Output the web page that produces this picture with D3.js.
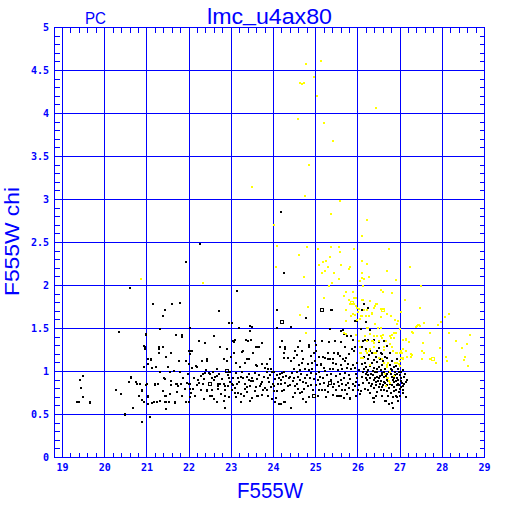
<!DOCTYPE html>
<html>
<head>
<meta charset="utf-8">
<script src="https://cdn.jsdelivr.net/npm/d3@7"></script>
<style>
  html, body { margin: 0; padding: 0; background: #ffffff; }
  svg { display: block; }
</style>
</head>
<body>
<div id="chart"></div>
<script>
// ---------------- data ----------------
const titleParts = ["lmc", "_", "u4ax80"];
const cornerText = "PC";
const xLabel = "F555W";
const yLabel = "F555W chi";

const magTicks = [19, 20, 21, 22, 23, 24, 25, 26, 27, 28, 29];
const chiTicks = [0, 0.5, 1, 1.5, 2, 2.5, 3, 3.5, 4, 4.5, 5];
const chiTickLabels = ["0", "0.5", "1", "1.5", "2", "2.5", "3", "3.5", "4", "4.5", "5"];

// black stars: [F555W, chi]
const blackStars = [
[20.60,1.97],[21.14,1.78],[21.59,1.78],[21.43,1.71],[21.38,1.65],[20.34,1.46],[21.31,1.49],[20.97,1.42],[20.99,1.44],[21.69,1.42],
[20.95,1.28],[20.94,1.30],[20.96,1.26],[21.29,1.28],[21.29,1.26],[21.38,1.29],[21.57,1.22],[21.45,1.17],[21.03,1.15],[21.09,1.15],
[21.09,1.13],[21.29,1.21],[21.02,1.09],[21.75,1.12],[20.94,1.05],[21.11,1.04],[21.22,1.05],[21.49,1.05],[21.51,1.05],[21.65,1.01],
[21.55,1.00],[21.31,0.99],[19.49,0.95],[19.42,0.90],[19.44,0.81],[19.49,0.70],[19.35,0.64],[19.40,0.65],[19.66,0.65],[19.66,0.63],
[20.63,0.94],[20.63,0.92],[20.58,0.88],[20.74,0.88],[20.77,0.86],[20.84,0.86],[21.01,0.86],[20.97,0.84],[20.27,0.78],[20.39,0.74],
[20.89,0.79],[20.89,0.77],[20.82,0.71],[20.88,0.67],[20.93,0.65],[21.03,0.72],[21.03,0.70],[21.02,0.62],[21.13,0.63],[21.17,0.65],
[21.25,0.64],[21.30,0.66],[21.20,0.86],[21.20,0.84],[21.27,0.86],[21.38,0.77],[21.45,0.71],[21.43,0.71],[21.54,0.74],[21.58,0.89],
[21.57,0.84],[21.40,0.93],[21.44,0.91],[21.72,0.85],[21.74,0.83],[21.72,0.76],[21.42,0.65],[21.45,0.65],[21.53,0.65],[21.66,0.65],
[21.66,0.63],[21.46,0.56],[20.67,0.57],[20.48,0.51],[20.48,0.50],[21.07,0.47],[20.88,0.41],
[22.26,2.48],[21.93,2.27],[24.25,2.15],[23.13,1.94],[21.78,1.80],[22.71,1.70],[24.09,1.72],[24.09,1.71],[22.95,1.56],[23.01,1.56],
[22.01,1.51],[23.18,1.51],[23.49,1.52],[24.09,1.51],[23.44,1.47],[21.69,1.42],[21.84,1.42],[21.84,1.40],[22.59,1.41],[23.09,1.37],
[23.06,1.34],[23.39,1.36],[23.47,1.37],[22.23,1.36],[22.37,1.33],[24.21,1.36],[23.73,1.33],[22.74,1.28],[22.90,1.26],[23.59,1.29],
[23.59,1.28],[23.66,1.28],[24.16,1.29],[24.28,1.28],[24.28,1.26],[23.28,1.24],[23.26,1.23],[22.05,1.24],[22.03,1.20],[22.00,1.24],
[23.06,1.22],[23.52,1.21],[24.25,1.21],[24.25,1.16],[22.43,1.15],[22.43,1.12],[22.30,1.12],[22.82,1.14],[22.90,1.12],[23.00,1.17],
[23.38,1.14],[23.43,1.15],[23.92,1.14],[21.76,1.12],[21.92,1.12],[22.00,1.09],[23.32,1.10],[23.12,1.10],[23.59,1.07],[23.61,1.06],
[23.73,1.09],[23.84,1.09],[23.20,1.05],[22.08,1.04],[22.16,1.06],[22.18,1.05],[22.56,1.00],[22.65,1.03],[22.98,1.00],[21.78,1.00],
[22.38,0.98],[22.33,0.97],[22.46,0.98],[22.50,0.97],[23.80,1.04],[23.87,1.03],[23.95,1.03],[23.96,1.00],[24.01,0.99],[24.08,0.96],
[24.15,0.97],[24.20,0.98],[24.24,0.99],[24.30,0.95],[24.22,0.94],
[21.69,0.85],[21.73,0.83],[21.81,0.86],[21.95,0.87],[22.00,0.86],[22.02,0.85],[21.90,0.80],[22.02,0.80],[21.71,0.76],[22.10,0.80],
[22.05,0.75],[22.03,0.70],[21.93,0.64],[22.00,0.64],[21.67,0.65],[22.23,0.87],[22.33,0.86],[22.43,0.79],[22.43,0.77],[22.55,0.93],
[22.62,0.94],[22.65,0.95],[22.68,0.86],[22.73,0.86],[22.68,0.83],[22.68,0.80],[22.55,0.79],[22.49,0.72],[22.54,0.72],[22.66,0.64],
[22.76,0.74],[22.82,0.86],[22.84,0.83],[22.86,0.79],[22.86,0.72],[22.82,0.66],[22.86,0.58],[22.95,0.93],[22.96,0.88],[23.01,0.86],
[23.05,0.84],[23.09,0.81],[23.02,0.79],[23.08,0.75],[23.17,0.75],[23.23,0.74],[23.23,0.65],[23.16,0.93],[23.23,0.94],[23.28,0.93],
[23.36,0.94],[23.41,0.90],[23.47,0.89],[23.51,0.89],[23.36,0.82],[23.45,0.83],[23.58,0.82],[23.37,0.76],[23.50,0.69],[23.63,0.72],
[23.68,0.83],[23.74,0.79],[23.80,0.81],[23.85,0.78],[23.90,0.88],[23.94,0.82],[23.99,0.86],[24.01,0.83],[24.11,0.86],[24.17,0.86],
[24.28,0.87],[24.09,0.77],[24.21,0.77],[24.26,0.79],[24.06,0.69],[24.04,0.64],[24.17,0.62],[24.26,0.64],[24.34,0.83],[24.37,0.93],
[23.05,1.35],[23.34,1.37],[23.64,1.29],[22.07,1.24],[23.45,1.53],[24.41,1.52],[24.77,1.62],[25.39,1.72],[25.34,1.50],[25.60,1.47],
[25.66,1.44],[24.41,0.58],[24.77,0.65],[25.59,0.72],[25.66,0.69],[25.82,0.68],[26.36,0.69],[26.37,0.64],[26.64,0.66],[26.73,0.62],
[26.83,0.57],[26.92,0.70],[27.13,0.70],[24.05,0.69],[24.13,0.62],[24.27,0.65],[23.61,0.72],[23.73,0.73],[24.17,2.86],
[25.37,1.72],[25.92,1.59],[25.97,1.59],[25.64,1.48],[25.75,1.41],[25.83,1.41],[25.89,1.37],[24.98,1.36],[25.15,1.35],[25.32,1.34],
[24.62,1.35],[25.45,1.35],[25.60,1.34],[24.84,1.29],[24.84,1.31],[25.01,1.31],[24.59,1.28],[24.67,1.24],[24.51,1.24],[25.69,1.29],
[25.85,1.26],[25.93,1.29],[25.91,1.24],[25.01,1.24],[24.95,1.21],[25.07,1.17],[25.30,1.21],[25.43,1.21],[25.53,1.22],[25.52,1.20],
[25.17,1.17],[25.23,1.16],[25.29,1.15],[25.35,1.15],[25.40,1.14],[25.64,1.14],[25.71,1.16],[24.35,1.16],[24.41,1.12],[24.48,1.16],
[24.70,1.14],[24.68,1.10],[24.82,1.09],[24.92,1.10],[25.04,1.07],[25.13,1.09],[25.13,1.07],[25.49,1.09],[25.61,1.07],[25.77,1.09],
[25.88,1.07],[24.49,1.03],[24.63,1.02],[24.74,1.03],[24.84,1.02],[24.92,1.03],[25.20,1.04],[25.23,1.01],[25.33,1.03],[25.42,1.03],
[25.53,1.02],[25.63,1.03],[25.74,1.04],[25.83,1.03],[25.93,1.04],[26.03,1.02],
[24.38,0.94],[24.49,0.93],[24.59,0.94],[24.63,0.90],[24.51,0.83],[24.40,0.84],[24.74,0.93],[24.77,0.87],[24.87,0.92],[24.90,0.84],
[24.73,0.80],[24.52,0.75],[24.62,0.75],[24.68,0.76],[24.96,0.91],[25.06,0.90],[25.11,0.94],[25.17,0.93],[25.09,0.86],[25.14,0.79],
[25.08,0.79],[24.84,0.70],[25.23,0.79],[25.30,0.83],[25.44,0.86],[25.41,0.82],[25.49,0.78],[25.56,0.72],[25.50,0.72],[25.63,0.86],
[25.71,0.84],[25.77,0.87],[25.61,0.90],[25.68,0.93],[25.82,0.91],[25.88,0.86],[25.79,0.81],[25.88,0.79],[25.93,0.83],[26.00,0.78],
[26.02,0.84],[26.07,0.77],[25.82,0.69],[25.74,0.74],[26.05,0.74],
[26.15,1.78],[26.23,1.74],[26.09,1.72],[26.19,1.58],[26.29,1.48],[26.07,1.49],[26.17,1.37],[26.12,1.35],[26.25,1.37],[26.09,1.28],
[26.37,1.37],[26.51,1.34],[26.61,1.35],[26.68,1.30],[26.19,1.26],[26.28,1.24],[26.33,1.22],[26.45,1.24],[26.51,1.27],[26.54,1.22],
[26.15,1.17],[26.25,1.14],[26.37,1.13],[26.42,1.17],[26.53,1.15],[26.65,1.17],[26.70,1.16],[26.09,1.09],[26.20,1.05],[26.29,1.06],
[26.38,1.04],[26.49,1.05],[26.57,1.07],[26.76,1.07],[26.85,1.05],[26.91,1.06],[26.12,1.00],[26.22,0.99],[26.31,0.97],[26.40,1.00],
[26.46,0.99],[26.56,0.98],[26.63,1.00],[26.74,1.00],[26.81,1.02],[26.88,1.00],[26.97,1.00],[27.03,0.99],[26.10,0.94],[26.19,0.92],
[26.29,0.93],[26.40,0.93],[26.51,0.92],[26.61,0.94],[26.72,0.93],[26.81,0.94],[26.92,0.93],[27.02,0.92],[27.10,0.94],[27.16,0.90],
[26.13,0.87],[26.26,0.87],[26.43,0.88],[26.53,0.86],[26.65,0.87],[26.76,0.86],[26.86,0.88],[26.94,0.86],[27.05,0.87],[27.13,0.88],
[26.17,0.80],[26.37,0.81],[26.49,0.82],[26.61,0.79],[26.74,0.81],[26.85,0.82],[26.91,0.78],[26.99,0.80],[27.08,0.79],[26.07,0.77],
[26.45,0.76],[26.78,0.75],[26.91,0.72],[27.00,0.71],[27.13,0.70],[26.37,0.69],[26.29,0.75],[26.66,0.66],[26.81,0.63],[26.84,0.57],
[26.37,0.64],[26.58,0.96],[26.68,0.90],[26.89,0.96],[26.97,0.84],[26.55,0.89],[26.33,0.85],[26.24,0.96],[26.70,0.97],[26.82,0.90],
[26.46,0.94],[26.92,0.97],[27.06,0.83],[26.60,0.84],[26.95,0.90]
];

// additional black stars in the dense main band
const blackStarsBand = [
[22.12,0.93],[22.20,0.90],[22.28,0.95],[22.36,0.91],[22.40,1.02],[22.60,0.90],[22.72,0.97],[22.78,0.91],[22.92,0.96],[23.04,0.92],
[23.10,0.98],[23.18,0.88],[23.26,0.99],[23.32,0.86],[23.42,0.97],[23.48,0.93],[23.55,0.98],[23.62,0.91],[23.66,0.96],[23.72,0.88],
[23.78,0.94],[23.84,0.99],[23.88,0.92],[23.92,0.96],[24.03,0.91],[24.12,0.92],[24.18,0.90],[22.14,0.71],[22.27,0.78],[22.35,0.68],
[22.60,0.68],[22.95,0.70],[23.12,0.70],[23.30,0.72],[23.44,0.66],[23.55,0.77],[23.88,0.72],[23.96,0.68],[21.86,0.93],[21.98,0.97],
[21.84,0.72],[22.18,0.84],[22.92,0.83],[23.14,0.85],[23.32,0.80],[23.70,0.86],[24.00,0.77],
[24.45,0.98],[24.55,0.99],[24.66,0.97],[24.80,0.96],[24.88,0.98],[25.00,0.97],[25.08,0.99],[25.26,0.96],[25.37,0.97],[25.47,0.95],
[25.58,0.97],[25.70,0.98],[25.80,0.96],[25.96,0.97],[25.98,0.92],[24.46,0.89],[24.56,0.86],[24.69,0.88],[24.82,0.83],[25.00,0.84],
[25.20,0.87],[25.36,0.90],[25.52,0.88],[25.56,0.83],[25.69,0.79],[25.96,0.88],[24.58,0.80],[24.93,0.78],[25.30,0.76],[25.40,0.73],
[25.62,0.78],[25.95,0.71],[24.46,0.70],[24.70,0.68],[25.05,0.72],[25.25,0.70],[24.60,1.08],[24.98,1.12],[25.40,1.10],[25.70,1.12],
[25.98,1.10],[24.55,1.19],[24.88,1.18],[25.58,1.18],[25.80,1.20],
[26.15,1.03],[26.25,1.02],[26.35,1.01],[26.45,1.03],[26.55,1.02],[26.65,1.03],[26.78,1.03],[26.95,1.03],[27.08,1.02],[26.18,0.97],
[26.36,0.96],[26.52,0.95],[26.66,0.95],[26.78,0.97],[26.86,0.92],[27.00,0.96],[27.12,0.97],[26.22,0.90],[26.38,0.90],[26.48,0.89],
[26.62,0.88],[26.72,0.89],[26.90,0.89],[27.02,0.89],[27.10,0.85],[26.30,0.83],[26.42,0.84],[26.56,0.82],[26.68,0.84],[26.80,0.84],
[26.92,0.84],[27.02,0.82],[26.25,0.78],[26.55,0.78],[26.68,0.77],[26.85,0.77],[26.97,0.76],[27.08,0.75],[26.58,0.72],[26.72,0.71],
[26.83,0.70],[26.42,0.72],[26.95,0.66],[26.16,1.10],[26.34,1.10],[26.46,1.11],[26.60,1.12],[26.80,1.12],[26.92,1.14],[26.27,1.19],
[26.58,1.20],[26.76,1.21]
];

// open (hollow) black markers
const blackOpen = [[24.21,1.58],[25.16,1.72],[22.89,1.01],[22.49,0.86],[24.95,0.71],[25.33,0.87]];

// yellow stars: [F555W, chi]
const yellowStars = [
[24.78,4.57],[25.13,4.61],[24.97,4.42],[24.63,4.35],[24.68,4.34],[24.73,4.35],[25.03,4.20],[26.43,4.06],[24.59,3.94],[25.19,3.89],
[25.41,3.68],[24.84,3.40],[23.50,3.14],[24.74,3.04],[25.57,2.98],[25.36,2.83],[24.02,2.70],[26.21,2.76],[26.10,2.57],[24.08,2.46],
[24.60,2.36],[24.79,2.45],[25.06,2.43],[25.37,2.45],[25.55,2.45],[25.57,2.39],[25.91,2.43],[26.73,2.42],[26.10,2.28],[26.21,2.25],
[25.25,2.29],[25.17,2.27],[25.08,2.24],[25.30,2.21],[25.34,2.33],[25.21,2.17],[25.15,2.15],[25.44,2.14],[25.60,2.24],[25.79,2.19],
[25.82,2.21],[24.07,2.21],[24.73,2.10],[26.10,2.15],[26.10,2.09],[26.26,2.10],[25.55,2.07],[26.69,2.17],[27.24,2.22],[26.91,2.06],
[25.39,2.03],[25.31,2.00],[27.49,1.99],[25.20,1.86],[24.82,1.75],[24.63,1.66],[22.33,2.03],[20.86,2.08],[26.05,2.05],[26.12,2.00],
[26.14,2.08],
[25.72,1.93],[25.88,1.92],[25.68,1.88],[25.90,1.86],[25.96,1.85],[25.80,1.83],[25.87,1.79],[25.82,1.78],[25.95,1.76],[26.02,1.73],
[25.72,1.72],[26.10,1.83],[26.10,1.65],[25.89,1.67],[25.94,1.66],[25.83,1.64],[25.71,1.59],[25.97,1.60],[26.04,1.61],[24.77,1.45],
[25.68,1.45],[25.71,1.44],[25.95,1.43],[26.02,1.35],[26.04,1.28],[26.07,1.22],[26.07,1.16],
[26.55,1.95],[26.60,1.92],[26.81,1.91],[26.29,1.82],[26.43,1.79],[26.38,1.74],[26.21,1.72],[26.34,1.68],[26.12,1.83],[26.14,1.71],
[26.59,1.73],[26.55,1.63],[26.69,1.67],[26.78,1.65],[27.11,1.83],[27.03,1.69],[26.07,1.65],[26.20,1.65],[26.94,1.59],[26.40,1.55],
[26.22,1.51],[26.25,1.51],[26.47,1.51],[26.55,1.51],[26.91,1.45],[26.85,1.45],[26.99,1.49],[27.29,1.46],[27.46,1.53],[27.41,1.53],
[26.17,1.41],[26.29,1.44],[26.37,1.41],[26.45,1.41],[26.55,1.41],[26.57,1.39],[26.75,1.41],[26.81,1.42],[26.78,1.39],[26.22,1.36],
[26.34,1.35],[26.38,1.33],[26.51,1.35],[27.07,1.37],[27.14,1.37],[27.22,1.34],[26.61,1.29],[26.63,1.25],[26.81,1.29],[26.82,1.24],
[27.02,1.24],[27.08,1.26],[27.14,1.24],[27.05,1.21],[27.26,1.17],[27.17,1.17],[27.27,1.20],[27.07,1.16],[27.08,1.14],[26.91,1.22],
[26.93,1.21],[26.99,1.12],[26.22,1.21],[26.26,1.24],[26.37,1.21],[26.42,1.22],[26.49,1.16],[26.57,1.14],[26.63,1.10],[26.72,1.10],
[26.88,1.10],[26.69,1.07],[26.68,0.93],[26.74,0.89],[26.85,0.95],[26.97,1.09],[27.00,1.06],[26.28,1.08],
[27.50,1.99],[27.47,1.74],[27.42,1.54],[27.45,1.54],[27.37,1.52],[27.56,1.56],[28.07,1.63],[28.16,1.67],[27.90,1.54],[27.97,1.57],
[28.15,1.45],[28.65,1.43],[27.55,1.33],[28.32,1.35],[28.59,1.32],[27.94,1.27],[28.46,1.27],[27.52,1.24],[27.56,1.22],[27.52,1.15],
[27.71,1.14],[27.85,1.10],[28.09,1.17],[28.12,1.12],[28.54,1.17],[28.51,1.13],[28.61,1.06],
[26.70,1.67],[26.89,1.60],[26.92,1.55],[27.30,1.45],[27.13,1.38],[27.29,1.19],[27.71,1.45],
[26.05,1.21],[26.18,1.24],[26.29,1.26],[26.39,1.28],[26.13,1.16],[26.36,1.36],[26.59,1.42],[26.67,1.35],[26.77,1.32],[26.85,1.39],
[26.99,1.22],[27.03,1.16],[26.92,1.10],[26.69,1.05],[26.77,1.00],[26.64,0.97],[26.72,0.93],[26.77,0.87],[26.66,0.83],
[25.90,1.79],[25.98,1.74],[26.01,1.69],[26.09,1.65],[26.26,1.65],[26.34,1.67],[26.41,1.76],[26.45,1.79],[26.54,1.73]
];

// open (hollow) yellow markers
const yellowOpen = [[27.79,1.14],[26.60,1.72],[25.87,1.80]];

// ---------------- drawing ----------------
const W = 512, H = 512;
const blue = "#0000ff";
const svg = d3.select("#chart").append("svg")
  .attr("width", W).attr("height", H)
  .style("font-family", "'DejaVu Sans Mono', monospace");

svg.append("rect").attr("width", W).attr("height", H).attr("fill", "#fff");

const x = d3.scaleLinear().domain([18.81, 29]).range([54.5, 484.5]);
const y = d3.scaleLinear().domain([0, 5]).range([457.5, 27.5]);
const [x0, x1] = x.range();
const [y0, y1] = [y(0), y(5)];

const g = svg.append("g").attr("shape-rendering", "crispEdges");

// grid lines at major ticks
g.selectAll("line.vg").data(magTicks).join("line")
  .attr("x1", d => Math.round(x(d) - 0.5) + 0.5).attr("x2", d => Math.round(x(d) - 0.5) + 0.5)
  .attr("y1", y1).attr("y2", y0)
  .attr("stroke", blue).attr("stroke-width", 1);
g.selectAll("line.hg").data(chiTicks).join("line")
  .attr("y1", d => Math.round(y(d) - 0.5) + 0.5).attr("y2", d => Math.round(y(d) - 0.5) + 0.5)
  .attr("x1", x0).attr("x2", x1)
  .attr("stroke", blue).attr("stroke-width", 1);

// minor ticks
const xMinor = d3.range(19, 29.001, 0.2).filter(v => Math.abs(v - Math.round(v)) > 1e-6);
const yMinor = d3.range(0, 5.001, 0.1).filter(v => Math.abs(v * 2 - Math.round(v * 2)) > 1e-6);
const tl = 5;
xMinor.forEach(v => {
  const px = Math.round(x(v) - 0.5) + 0.5;
  g.append("line").attr("x1", px).attr("x2", px).attr("y1", y0).attr("y2", y0 - tl).attr("stroke", blue);
  g.append("line").attr("x1", px).attr("x2", px).attr("y1", y1).attr("y2", y1 + tl).attr("stroke", blue);
});
yMinor.forEach(v => {
  const py = Math.round(y(v) - 0.5) + 0.5;
  g.append("line").attr("y1", py).attr("y2", py).attr("x1", x0).attr("x2", x0 + tl).attr("stroke", blue);
  g.append("line").attr("y1", py).attr("y2", py).attr("x1", x1).attr("x2", x1 - tl).attr("stroke", blue);
});

// points
const sq = 2;
const pts = svg.append("g").attr("shape-rendering", "crispEdges");
pts.selectAll("rect.b").data(blackStars.concat(blackStarsBand)).join("rect")
  .attr("x", d => Math.round(x(d[0]) - sq / 2)).attr("y", d => Math.round(y(d[1]) - sq / 2))
  .attr("width", sq).attr("height", sq).attr("fill", "#000");
pts.selectAll("rect.bo").data(blackOpen).join("rect")
  .attr("x", d => Math.round(x(d[0]) - 2) + 0.5).attr("y", d => Math.round(y(d[1]) - 2) + 0.5)
  .attr("width", 3).attr("height", 3).attr("fill", "none").attr("stroke", "#000");
pts.selectAll("rect.y").data(yellowStars).join("rect")
  .attr("x", d => Math.round(x(d[0]) - sq / 2)).attr("y", d => Math.round(y(d[1]) - sq / 2))
  .attr("width", sq).attr("height", sq).attr("fill", "#ffff00");
pts.selectAll("rect.yo").data(yellowOpen).join("rect")
  .attr("x", d => Math.round(x(d[0]) - 2) + 0.5).attr("y", d => Math.round(y(d[1]) - 2) + 0.5)
  .attr("width", 3).attr("height", 3).attr("fill", "none").attr("stroke", "#ffff00");

// frame
g.append("rect").attr("x", x0).attr("y", y1).attr("width", x1 - x0).attr("height", y0 - y1)
  .attr("fill", "none").attr("stroke", blue).attr("stroke-width", 1);

// tick labels
svg.append("g").selectAll("text").data(magTicks).join("text")
  .attr("x", d => x(d)).attr("y", 471)
  .attr("text-anchor", "middle").attr("font-size", 10).attr("font-weight", "bold")
  .attr("fill", blue).text(d => d);
svg.append("g").selectAll("text").data(chiTicks).join("text")
  .attr("x", 49).attr("y", d => y(d) + 3.5)
  .attr("text-anchor", "end").attr("font-size", 10).attr("font-weight", "bold")
  .attr("fill", blue).text((d, i) => chiTickLabels[i]);

// titles
const sans = "'Liberation Sans', 'DejaVu Sans', sans-serif";
const title = svg.append("text").attr("x", 207).attr("y", 24).attr("font-family", sans)
  .attr("font-size", 22).attr("fill", blue)
  .attr("textLength", 125).attr("lengthAdjust", "spacingAndGlyphs");
title.append("tspan").text(titleParts[0]);
title.append("tspan").attr("dy", -3).text(titleParts[1]);
title.append("tspan").attr("dy", 3).text(titleParts[2]);

svg.append("text").attr("x", 85).attr("y", 24).attr("font-family", sans)
  .attr("font-size", 16).attr("fill", blue)
  .attr("textLength", 21).attr("lengthAdjust", "spacingAndGlyphs").text(cornerText);
svg.append("text").attr("x", 237).attr("y", 498).attr("font-family", sans)
  .attr("font-size", 21.5).attr("fill", blue)
  .attr("textLength", 66).attr("lengthAdjust", "spacingAndGlyphs").text(xLabel);
svg.append("text").attr("transform", "translate(19,296) rotate(-90)").attr("font-family", sans)
  .attr("font-size", 21).attr("fill", blue)
  .attr("textLength", 109).attr("lengthAdjust", "spacingAndGlyphs").text(yLabel);
</script>
</body>
</html>
